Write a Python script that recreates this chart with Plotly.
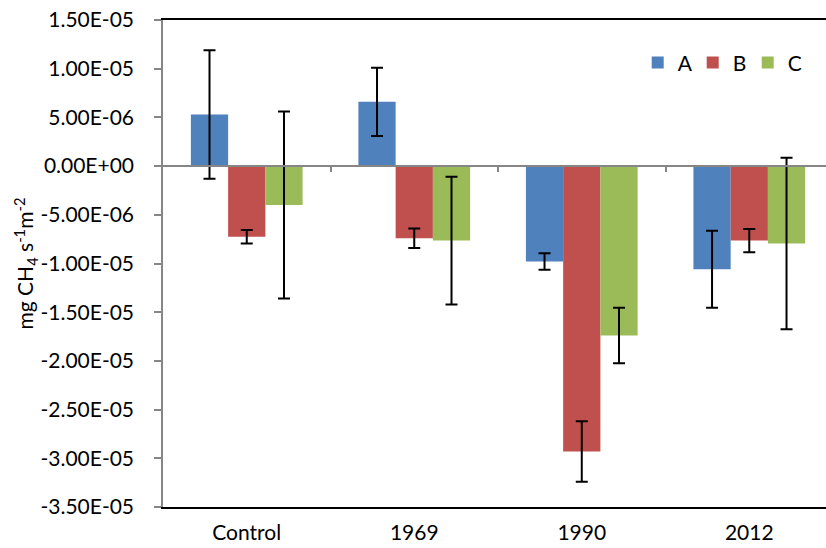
import plotly.graph_objects as go

categories = ["Control", "1969", "1990", "2012"]
series_names = ["A", "B", "C"]
values_A = [5.3e-6, 6.6e-6, -9.8e-6, -10.6e-6]
values_B = [-7.25e-6, -7.4e-6, -29.3e-6, -7.65e-6]
values_C = [-4.0e-6, -7.65e-6, -17.4e-6, -7.95e-6]
err_A = [6.6e-6, 3.5e-6, 0.85e-6, 3.95e-6]
err_B = [0.7e-6, 1.0e-6, 3.1e-6, 1.2e-6]
err_C = [9.6e-6, 6.55e-6, 2.85e-6, 8.8e-6]
colors = ["#4F81BD", "#C0504D", "#9BBB59"]
y_ticks = [1.5e-5, 1.0e-5, 5e-6, 0.0, -5e-6, -1.0e-5, -1.5e-5, -2.0e-5, -2.5e-5, -3.0e-5, -3.5e-5]
y_ticktext = [f"{v:.2E}" for v in y_ticks]

FONT = "Lato"
FS = 21
fig = go.Figure()
for name, vals, errs, col in zip(series_names, [values_A, values_B, values_C],
                                 [err_A, err_B, err_C], colors):
    fig.add_trace(go.Bar(
        name=name, x=categories, y=vals,
        marker=dict(color=col, line=dict(width=0)),
        error_y=dict(type="data", array=errs, visible=True,
                     color="black", thickness=2, width=6),
    ))

# helper trace for zero-line category axis with tick marks
fig.add_trace(go.Scatter(x=[-0.5], y=[0], xaxis="x2", mode="markers",
                         marker=dict(opacity=0), showlegend=False, hoverinfo="skip"))

fig.update_layout(
    width=826, height=548,
    margin=dict(l=163, r=0, t=20, b=41, autoexpand=False),
    paper_bgcolor="white", plot_bgcolor="white",
    font=dict(family=FONT, size=FS, color="black"),
    barmode="group", bargap=0.333, bargroupgap=0,
    xaxis=dict(range=[-0.5, 3.458], showgrid=False, zeroline=False,
               showline=True, mirror=True, linecolor="black", linewidth=1.5,
               ticks="outside", ticklen=6, tickcolor="rgba(0,0,0,0)",
               tickfont=dict(family=FONT, size=FS, color="black")),
    xaxis2=dict(overlaying="x", anchor="free", position=0.7,
                range=[-0.5, 3.458], tickmode="array", tickvals=[0.5, 1.5, 2.5, 3.5],
                showticklabels=False, ticks="outside", ticklen=5, tickwidth=1.5,
                tickcolor="#868686", showline=True, linecolor="#868686", linewidth=1.5,
                showgrid=False, zeroline=False),
    yaxis=dict(range=[-3.5e-5, 1.5e-5], tickmode="array", tickvals=y_ticks,
               ticktext=y_ticktext, showgrid=False, zeroline=False,
               showline=True, linecolor="#868686", linewidth=1.5,
               ticks="outside", ticklen=7, tickwidth=1.5, tickcolor="#868686",
               ticklabelstandoff=16,
               tickfont=dict(family=FONT, size=FS, color="black")),
    legend=dict(orientation="h", x=0.716, xanchor="left", y=0.912, yanchor="middle",
                font=dict(family=FONT, size=FS, color="black"),
                bgcolor="rgba(0,0,0,0)", traceorder="normal",
                entrywidth=10, entrywidthmode="pixels", itemwidth=30),
    showlegend=True,
    annotations=[dict(text="mg CH<sub>4</sub> s<sup>-1</sup>m<sup>-2</sup>",
                      xref="paper", yref="paper", x=0, y=0.5, xshift=-138,
                      xanchor="center", yanchor="middle", textangle=-90,
                      showarrow=False, font=dict(family=FONT, size=FS, color="black"))],
)
fig.write_html("out.html")
